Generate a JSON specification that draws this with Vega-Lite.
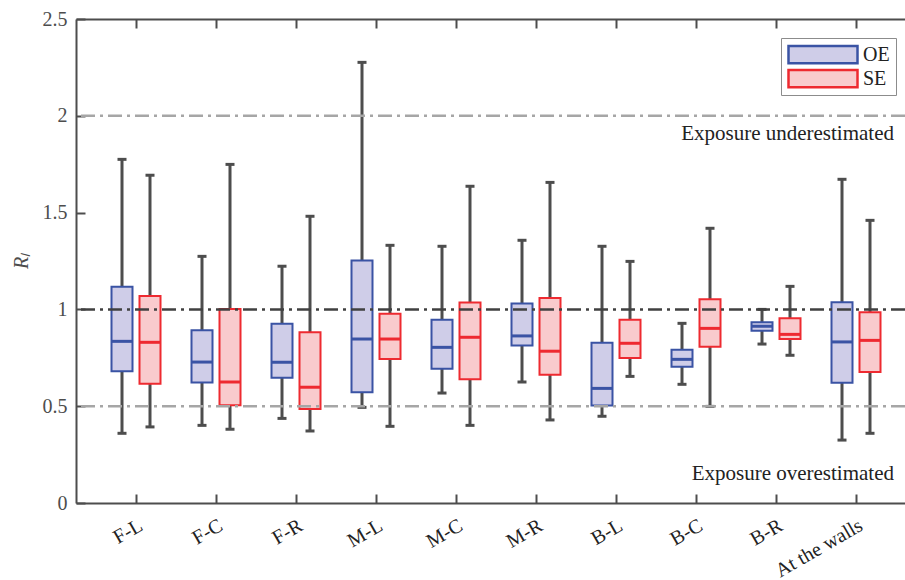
{
  "$schema": "https://vega.github.io/schema/vega-lite/v6.json",
  "width": 829,
  "height": 484,
  "autosize": {"type": "none"},
  "padding": {"left": 76, "top": 19, "right": 0, "bottom": 77},
  "background": "white",
  "config": {
    "view": {"stroke": null},
    "font": "Liberation Serif",
    "axis": {
      "grid": false,
      "domainColor": "#4d4d4d",
      "domainWidth": 2,
      "tickColor": "#4d4d4d",
      "tickWidth": 2,
      "tickSize": -9,
      "labelFont": "Liberation Serif",
      "labelFontSize": 20,
      "titleFont": "Liberation Serif"
    }
  },
  "data": {
    "values": [
      {"loc": "F-L", "group": "OE", "lo": 0.36, "q1": 0.68, "med": 0.835, "q3": 1.117, "hi": 1.775},
      {"loc": "F-L", "group": "SE", "lo": 0.393, "q1": 0.616, "med": 0.83, "q3": 1.069, "hi": 1.693},
      {"loc": "F-C", "group": "OE", "lo": 0.401, "q1": 0.623, "med": 0.728, "q3": 0.892, "hi": 1.274},
      {"loc": "F-C", "group": "SE", "lo": 0.381, "q1": 0.505, "med": 0.625, "q3": 1.002, "hi": 1.749},
      {"loc": "F-R", "group": "OE", "lo": 0.437, "q1": 0.647, "med": 0.727, "q3": 0.926, "hi": 1.223},
      {"loc": "F-R", "group": "SE", "lo": 0.372, "q1": 0.486, "med": 0.598, "q3": 0.882, "hi": 1.481},
      {"loc": "M-L", "group": "OE", "lo": 0.494, "q1": 0.572, "med": 0.847, "q3": 1.252, "hi": 2.276},
      {"loc": "M-L", "group": "SE", "lo": 0.396, "q1": 0.744, "med": 0.847, "q3": 0.978, "hi": 1.331},
      {"loc": "M-C", "group": "OE", "lo": 0.568, "q1": 0.694, "med": 0.804, "q3": 0.947, "hi": 1.326},
      {"loc": "M-C", "group": "SE", "lo": 0.401, "q1": 0.639, "med": 0.856, "q3": 1.035, "hi": 1.636},
      {"loc": "M-R", "group": "OE", "lo": 0.625, "q1": 0.813, "med": 0.863, "q3": 1.031, "hi": 1.357},
      {"loc": "M-R", "group": "SE", "lo": 0.429, "q1": 0.663, "med": 0.784, "q3": 1.059, "hi": 1.656},
      {"loc": "B-L", "group": "OE", "lo": 0.448, "q1": 0.503, "med": 0.592, "q3": 0.828, "hi": 1.326},
      {"loc": "B-L", "group": "SE", "lo": 0.654, "q1": 0.749, "med": 0.825, "q3": 0.947, "hi": 1.248},
      {"loc": "B-C", "group": "OE", "lo": 0.613, "q1": 0.704, "med": 0.742, "q3": 0.792, "hi": 0.928},
      {"loc": "B-C", "group": "SE", "lo": 0.499, "q1": 0.807, "med": 0.902, "q3": 1.052, "hi": 1.419},
      {"loc": "B-R", "group": "OE", "lo": 0.821, "q1": 0.89, "med": 0.913, "q3": 0.933, "hi": 1.0},
      {"loc": "B-R", "group": "SE", "lo": 0.763, "q1": 0.847, "med": 0.871, "q3": 0.954, "hi": 1.119},
      {"loc": "At the walls", "group": "OE", "lo": 0.325, "q1": 0.621, "med": 0.832, "q3": 1.037, "hi": 1.672},
      {"loc": "At the walls", "group": "SE", "lo": 0.36, "q1": 0.677, "med": 0.84, "q3": 0.985, "hi": 1.46}
    ]
  },
  "resolve": {"axis": {"x": "independent", "y": "independent"}},
  "layer": [
    {
      "mark": {"type": "rule", "color": "#4d4d4d", "strokeWidth": 3},
      "encoding": {
        "x": {"field": "loc", "type": "nominal", "sort": ["F-L", "F-C", "F-R", "M-L", "M-C", "M-R", "B-L", "B-C", "B-R", "At the walls"],
          "scale": {"range": [0, 840], "paddingInner": 0.3, "paddingOuter": 0.4},
          "axis": {"orient": "top", "labels": false, "title": null}},
        "xOffset": {"field": "group", "type": "nominal", "scale": {"paddingInner": 0.25, "paddingOuter": 0.125}},
        "y": {"field": "lo", "type": "quantitative", "scale": {"domain": [0, 2.5], "nice": false, "zero": false}, "axis": null},
        "y2": {"field": "hi"}
      }
    },
    {
      "mark": {"type": "tick", "color": "#4d4d4d", "thickness": 3, "size": 9, "opacity": 1},
      "encoding": {
        "x": {"field": "loc", "type": "nominal", "sort": ["F-L", "F-C", "F-R", "M-L", "M-C", "M-R", "B-L", "B-C", "B-R", "At the walls"], "axis": null},
        "xOffset": {"field": "group", "type": "nominal"},
        "y": {"field": "lo", "type": "quantitative", "axis": null}
      }
    },
    {
      "mark": {"type": "tick", "color": "#4d4d4d", "thickness": 3, "size": 9, "opacity": 1},
      "encoding": {
        "x": {"field": "loc", "type": "nominal", "sort": ["F-L", "F-C", "F-R", "M-L", "M-C", "M-R", "B-L", "B-C", "B-R", "At the walls"], "axis": null},
        "xOffset": {"field": "group", "type": "nominal"},
        "y": {"field": "hi", "type": "quantitative", "axis": null}
      }
    },
    {
      "mark": {"type": "bar", "strokeWidth": 2, "opacity": 1},
      "encoding": {
        "x": {"field": "loc", "type": "nominal", "sort": ["F-L", "F-C", "F-R", "M-L", "M-C", "M-R", "B-L", "B-C", "B-R", "At the walls"],
          "axis": {"orient": "bottom", "title": null, "labelAngle": -30, "labelAlign": "right", "labelBaseline": "top", "labelPadding": 21, "labelColor": "#222222"}},
        "xOffset": {"field": "group", "type": "nominal"},
        "y": {"field": "q1", "type": "quantitative",
          "axis": {"values": [0, 0.5, 1, 1.5, 2, 2.5], "format": "~g", "labelPadding": 18, "labelColor": "#4d4d4d",
            "title": "Rₗ", "titleFontStyle": "italic", "titleFontWeight": "normal", "titleFontSize": 20, "titleColor": "#4d4d4d",
            "titleAngle": -90, "titleX": -55, "titleY": 242, "titleAlign": "center", "titleBaseline": "middle"}},
        "y2": {"field": "q3"},
        "fill": {"field": "group", "type": "nominal", "scale": {"domain": ["OE", "SE"], "range": ["#cfcde8", "#f9cbcd"]},
          "legend": {"title": null, "orient": "none", "legendX": 705, "legendY": 19,
            "symbolType": "M-1,-0.25L1,-0.25L1,0.25L-1,0.25Z", "symbolSize": 4761, "symbolStrokeWidth": 2.5, "clipHeight": 21,
            "labelFontSize": 20, "labelFont": "Liberation Serif", "labelColor": "#222222", "labelOffset": 4,
            "strokeColor": "#8c8c8c", "fillColor": "white", "padding": 6, "rowPadding": 3}},
        "stroke": {"field": "group", "type": "nominal", "scale": {"domain": ["OE", "SE"], "range": ["#3a53a4", "#ee2a30"]},
          "legend": {"title": null, "orient": "none", "legendX": 705, "legendY": 19,
            "symbolType": "M-1,-0.25L1,-0.25L1,0.25L-1,0.25Z", "symbolSize": 4761, "symbolStrokeWidth": 2.5, "clipHeight": 21,
            "labelFontSize": 20, "labelFont": "Liberation Serif", "labelColor": "#222222", "labelOffset": 4,
            "strokeColor": "#8c8c8c", "fillColor": "white", "padding": 6, "rowPadding": 3}}
      }
    },
    {
      "transform": [{"filter": "datum.group === 'OE'"}],
      "mark": {"type": "tick", "thickness": 3, "size": 20, "opacity": 1, "color": "#3a53a4"},
      "encoding": {
        "x": {"field": "loc", "type": "nominal", "sort": ["F-L", "F-C", "F-R", "M-L", "M-C", "M-R", "B-L", "B-C", "B-R", "At the walls"], "axis": null},
        "xOffset": {"field": "group", "type": "nominal"},
        "y": {"field": "med", "type": "quantitative", "axis": null}
      }
    },
    {
      "transform": [{"filter": "datum.group === 'SE'"}],
      "mark": {"type": "tick", "thickness": 3, "size": 20, "opacity": 1, "color": "#ee2a30"},
      "encoding": {
        "x": {"field": "loc", "type": "nominal", "sort": ["F-L", "F-C", "F-R", "M-L", "M-C", "M-R", "B-L", "B-C", "B-R", "At the walls"], "axis": null},
        "xOffset": {"field": "group", "type": "nominal"},
        "y": {"field": "med", "type": "quantitative", "axis": null}
      }
    },
    {
      "data": {"values": [{"level": 0.5}, {"level": 2}]},
      "mark": {"type": "rule", "strokeWidth": 2.5, "strokeDash": [14, 5, 3, 5], "color": "#a6a6a6"},
      "encoding": {
        "y": {"field": "level", "type": "quantitative", "axis": null}
      }
    },
    {
      "data": {"values": [{"level": 1}]},
      "mark": {"type": "rule", "strokeWidth": 2.5, "strokeDash": [14, 5, 3, 5], "color": "#404040"},
      "encoding": {
        "y": {"field": "level", "type": "quantitative", "axis": null}
      }
    },
    {
      "data": {"values": [
        {"note": "Exposure underestimated", "level": 1.906},
        {"note": "Exposure overestimated", "level": 0.15}
      ]},
      "mark": {"type": "text", "align": "right", "baseline": "middle", "dx": 38, "fontSize": 21, "font": "Liberation Serif", "color": "#222222"},
      "encoding": {
        "x": {"datum": "At the walls", "type": "nominal", "axis": null},
        "y": {"field": "level", "type": "quantitative", "axis": null},
        "text": {"field": "note"}
      }
    }
  ]
}
